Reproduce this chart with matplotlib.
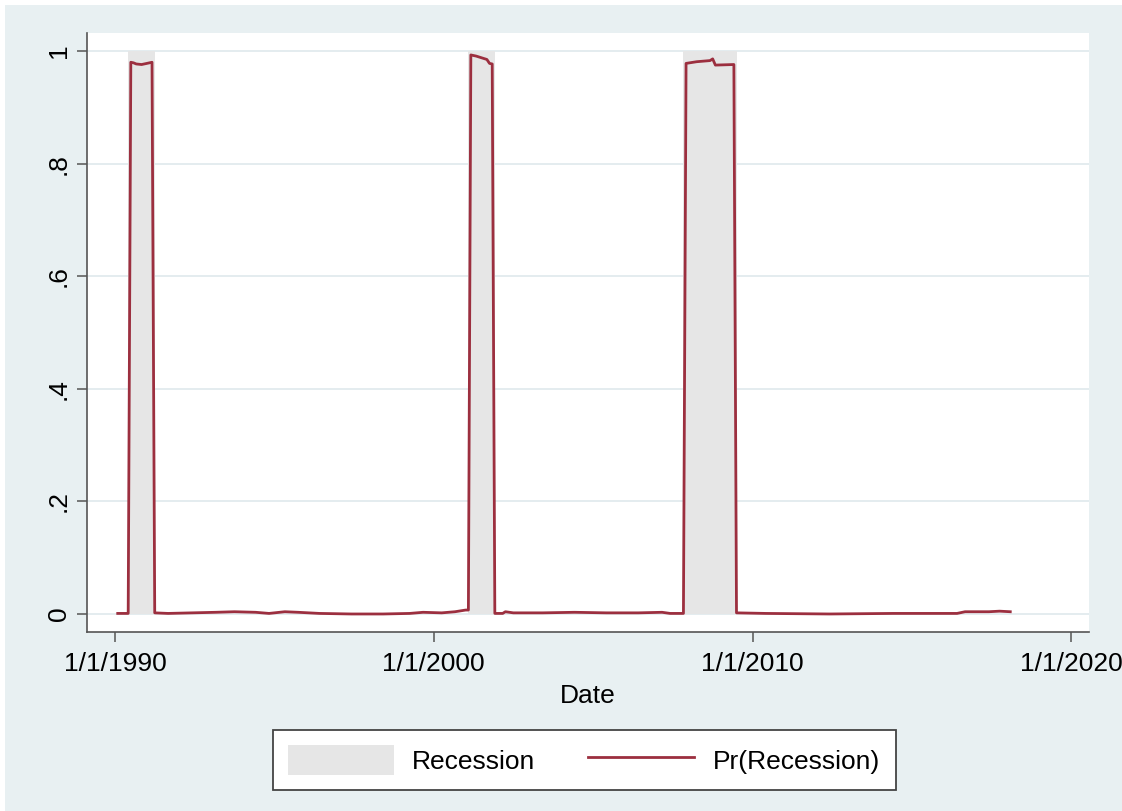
import numpy as np
import pandas as pd
import matplotlib
matplotlib.use("Agg")
import matplotlib.pyplot as plt
from matplotlib.patches import Rectangle

plt.rcParams['font.family'] = ['Liberation Sans', 'DejaVu Sans']

# monthly recession probability (break points of the series)
dates = ["1990-02", "1990-06", "1990-07", "1990-08", "1990-09", "1990-11",
         "1991-01", "1991-03", "1991-04", "1991-09", "1992-06", "1993-03",
         "1993-10", "1994-06", "1994-11", "1995-05", "1995-10", "1996-06",
         "1997-06", "1998-06", "1999-04", "1999-09", "2000-04", "2000-09",
         "2001-01", "2001-02", "2001-03", "2001-05", "2001-07", "2001-09",
         "2001-10", "2001-11", "2001-12", "2002-03", "2002-04", "2002-07",
         "2003-06", "2004-06", "2005-06", "2006-06", "2007-03", "2007-06",
         "2007-11", "2007-12", "2008-04", "2008-09", "2008-10", "2008-11",
         "2009-06", "2009-07", "2010-06", "2012-06", "2014-06", "2016-06",
         "2016-09", "2017-06", "2017-10", "2018-02"]
prob = [0.001, 0.001, 0.980, 0.979, 0.977, 0.976,
        0.978, 0.980, 0.002, 0.001, 0.002, 0.003,
        0.004, 0.003, 0.001, 0.004, 0.003, 0.001,
        0.000, 0.000, 0.001, 0.003, 0.002, 0.004,
        0.007, 0.007, 0.993, 0.991, 0.988, 0.985,
        0.978, 0.977, 0.001, 0.001, 0.004, 0.002,
        0.002, 0.003, 0.002, 0.002, 0.003, 0.001,
        0.001, 0.978, 0.981, 0.983, 0.986, 0.975,
        0.976, 0.002, 0.001, 0.000, 0.001, 0.001,
        0.004, 0.004, 0.005, 0.004]

# NBER recessions (first and last month), indicator = 1
rec_start = ["1990-07", "2001-03", "2007-12"]
rec_end = ["1991-03", "2001-11", "2009-06"]
rec_level = 1.0

xticks = ["1990-01-01", "2000-01-01", "2010-01-01", "2020-01-01"]
xticklabels = ["1/1/1990", "1/1/2000", "1/1/2010", "1/1/2020"]
yticks = [0, 0.2, 0.4, 0.6, 0.8, 1.0]
yticklabels = ["0", ".2", ".4", ".6", ".8", "1"]

bg = "#e8f0f2"
shade = "#e6e6e6"
red = "#9c2f3f"

fig = plt.figure(figsize=(11.22, 8.11), dpi=100)
fig.patch.set_facecolor("white")
fig.patches.append(Rectangle((5 / 1122, 0), 1, 806 / 811, transform=fig.transFigure,
                             facecolor=bg, edgecolor="none", zorder=-1))

ax = fig.add_axes([87 / 1122, 179 / 811, (1089 - 87) / 1122, (778 - 179) / 811])
ax.set_facecolor("white")

x = pd.to_datetime(dates)
pad = pd.Timedelta(days=35)
for i, (s, e) in enumerate(zip(rec_start, rec_end)):
    ax.fill_between([pd.Timestamp(s) - pad, pd.Timestamp(e) + pad], 0, rec_level,
                    color=shade, lw=0, zorder=1,
                    label="Recession" if i == 0 else None)

ax.plot(x, prob, color=red, lw=2.0, zorder=3, label="Pr(Recession)")

ax.set_ylim(-0.032, 1.032)
ax.set_xlim(pd.Timestamp("1989-02-14"), pd.Timestamp("2020-07-22"))

ax.set_yticks(yticks)
ax.set_yticklabels(yticklabels, rotation=90, va="center")
ax.set_xticks(pd.to_datetime(xticks))
ax.set_xticklabels(xticklabels)
ax.tick_params(axis="both", labelsize=19, length=7.5, width=1.1, color="#555555")
ax.tick_params(axis="x", pad=7)
ax.tick_params(axis="y", pad=4)

ax.grid(axis="y", color="#e4ecef", lw=1.4, zorder=0)
ax.set_axisbelow(True)
for side in ["top", "right"]:
    ax.spines[side].set_visible(False)
for side in ["left", "bottom"]:
    ax.spines[side].set_color("#555555")
    ax.spines[side].set_linewidth(1.2)

ax.set_xlabel("Date", fontsize=19, labelpad=6)

leg = fig.legend(loc="center", bbox_to_anchor=(584 / 1122, 51 / 811), ncol=2,
                 fontsize=19, frameon=True, fancybox=False, framealpha=1,
                 edgecolor="#444444", handlelength=4.0, handleheight=1.33,
                 handletextpad=0.7, columnspacing=2.0, borderpad=0.6)
leg.get_frame().set_linewidth(1.3)

fig.savefig("out.png", dpi=100)
